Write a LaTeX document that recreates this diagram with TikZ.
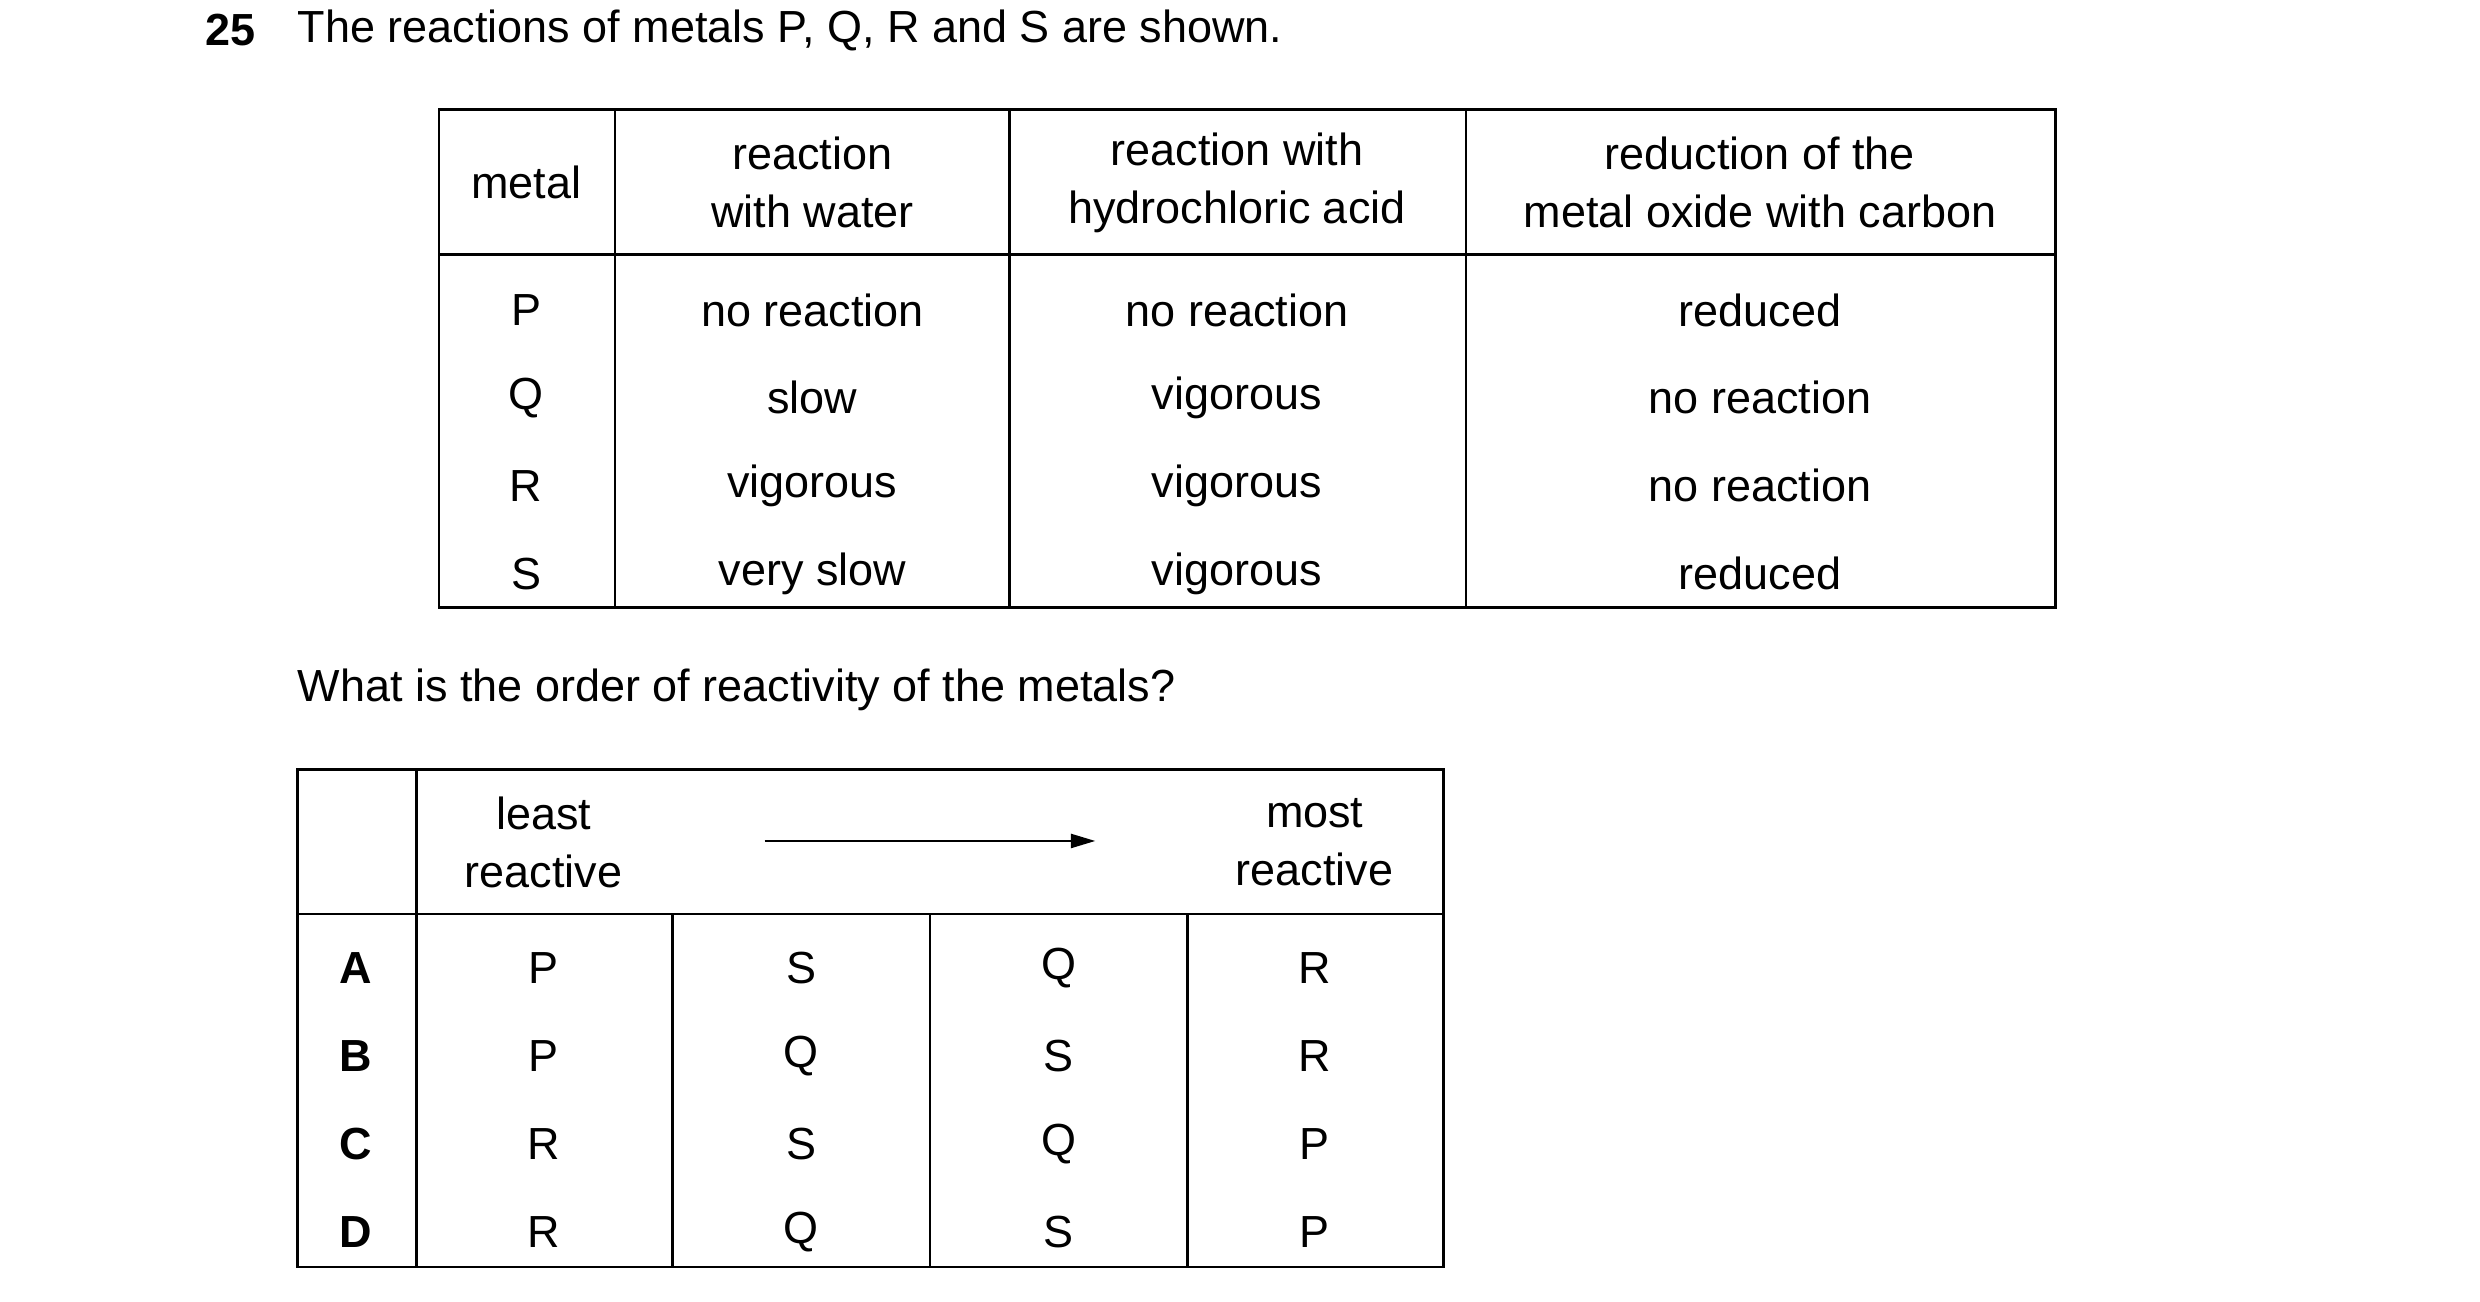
\documentclass[tikz,border=0pt]{standalone}
\usepackage{fontspec}
\setmainfont{Liberation Sans}
\usetikzlibrary{calc, arrows.meta}

\tikzset{
    cell/.style = {align = center, inner sep = 0pt, font = \fontsize{12.8}{16.5}\selectfont},
    rule/.style = {black, line width = 0.7pt}
}

\begin{document}
\begin{tikzpicture}[x = 0.0159cm, y = -0.0159cm]
            \useasboundingbox (0, 0) rectangle (1560, 819);
            
            % question text
            \node[cell, anchor = west, font = \bfseries\fontsize{12.8}{15}\selectfont] (num) at (129, 19) {25};
            \node[cell, anchor = west] (title) at (187, 19) {The reactions of metals P, Q, R and S are shown.};
            \node[cell, anchor = west] (question) at (187, 434) {What is the order of reactivity of the metals?};
            
            % reactions table
            \draw[rule] (276, 69) rectangle (1293, 382);
            \draw[rule] (276, 160) -- (1293, 160);
            \foreach \x in {387, 635, 922} {
                \draw[rule] (\x, 69) -- (\x, 382);
            }
            \node[cell] (h_metal) at (331, 115) {metal};
            \node[cell] (h_water) at (511, 115) {reaction\\with water};
            \node[cell] (h_acid) at (778, 115) {reaction with\\hydrochloric acid};
            \node[cell] (h_carbon) at (1107, 115) {reduction of the\\metal oxide with carbon};
            
            \foreach \m/\w/\a/\c [count = \i] in {P/no reaction/no reaction/reduced,
                                                   Q/slow/vigorous/no reaction,
                                                   R/vigorous/vigorous/no reaction,
                                                   S/very slow/vigorous/reduced} {
                \pgfmathsetmacro{\yy}{195 + (\i - 1) * 55.3}
                \node[cell] (metal\i) at (331, \yy) {\m};
                \node[cell] (water\i) at (511, \yy) {\w};
                \node[cell] (acid\i) at (778, \yy) {\a};
                \node[cell] (carbon\i) at (1107, \yy) {\c};
            }
            
            % answer table
            \draw[rule] (187, 484) rectangle (908, 797);
            \draw[rule] (187, 575) -- (908, 575);
            \draw[rule] (262, 484) -- (262, 797);
            \foreach \x in {423, 585, 747} {
                \draw[rule] (\x, 575) -- (\x, 797);
            }
            \node[cell] (least) at (342, 530) {least\\reactive};
            \node[cell] (most) at (827, 530) {most\\reactive};
            \coordinate (arr_start) at (481, 529);
            \coordinate (arr_end) at (689, 529);
            \draw[rule, -{Triangle[length = 7pt, width = 4pt]}] (arr_start) -- (arr_end);
            
            \foreach \k/\a/\b/\c/\d [count = \i] in {A/P/S/Q/R, B/P/Q/S/R, C/R/S/Q/P, D/R/Q/S/P} {
                \pgfmathsetmacro{\yy}{609 + (\i - 1) * 55.3}
                \node[cell, font = \bfseries\fontsize{12.8}{15}\selectfont] (key\i) at (224, \yy) {\k};
                \node[cell] (first\i) at (342, \yy) {\a};
                \node[cell] (second\i) at (504, \yy) {\b};
                \node[cell] (third\i) at (666, \yy) {\c};
                \node[cell] (fourth\i) at (827, \yy) {\d};
            }
            
        \end{tikzpicture}
\end{document}
